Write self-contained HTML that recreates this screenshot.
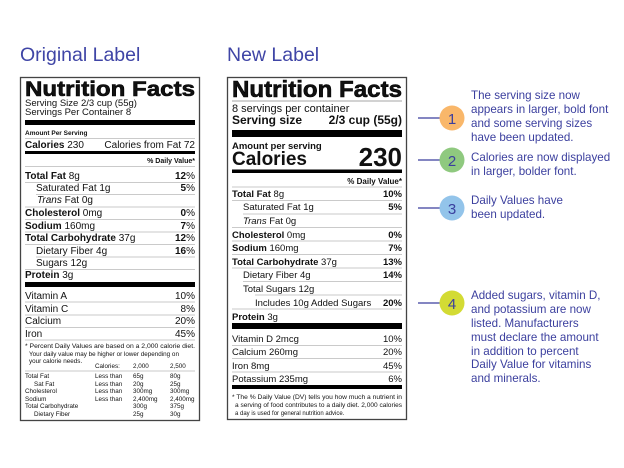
<!DOCTYPE html>
<html><head><meta charset="utf-8"><style>
html,body{margin:0;padding:0;background:#fff;}
svg{display:block;font-family:"Liberation Sans",Arial,sans-serif;}
.b{font-weight:bold}
.s{stroke:#b8b8b8;stroke-width:0.8}
.a{fill:#3b3f9e}
</style></head><body>
<svg width="624" height="468" viewBox="0 0 624 468" xmlns="http://www.w3.org/2000/svg">
<rect width="624" height="468" fill="#fff"/>
<text x="20" y="61" font-size="19.5" fill="#3f45a6">Original Label</text>
<text x="227" y="61" font-size="19.5" fill="#3f45a6">New Label</text>

<!-- ORIGINAL -->
<rect x="20.5" y="77.5" width="179" height="343" fill="#fff" stroke="#444" stroke-width="1.3"/>
<g font-size="10" fill="#111">
<text x="25" y="96" font-size="21" class="b" stroke="#000" stroke-width="0.6" textLength="170" lengthAdjust="spacingAndGlyphs">Nutrition Facts</text>
<text x="25" y="106" font-size="9.5">Serving Size 2/3 cup (55g)</text>
<text x="25" y="115" font-size="9.5">Servings Per Container 8</text>
<rect x="25" y="120" width="170" height="5" fill="#000"/>
<text x="25" y="135" font-size="6.5" class="b">Amount Per Serving</text>
<line class="s" x1="25" y1="138.5" x2="195" y2="138.5"/>
<text x="25" y="148"><tspan class="b">Calories</tspan> 230</text>
<text x="195" y="148" text-anchor="end">Calories from Fat 72</text>
<rect x="25" y="151" width="170" height="3" fill="#000"/>
<text x="195" y="163" font-size="7" class="b" text-anchor="end">% Daily Value*</text>
<line class="s" x1="25" y1="166.5" x2="195" y2="166.5"/>
<text x="25" y="179"><tspan class="b">Total Fat</tspan> 8g</text><text x="195" y="179" text-anchor="end"><tspan class="b">12</tspan>%</text>
<line class="s" x1="25" y1="182.5" x2="195" y2="182.5"/>
<text x="36" y="191">Saturated Fat 1g</text><text x="195" y="191" text-anchor="end"><tspan class="b">5</tspan>%</text>
<line class="s" x1="36" y1="194.5" x2="195" y2="194.5"/>
<text x="37" y="203"><tspan font-style="italic">Trans</tspan> Fat 0g</text>
<line class="s" x1="25" y1="207" x2="195" y2="207"/>
<text x="25" y="216"><tspan class="b">Cholesterol</tspan> 0mg</text><text x="195" y="216" text-anchor="end"><tspan class="b">0</tspan>%</text>
<line class="s" x1="25" y1="219.5" x2="195" y2="219.5"/>
<text x="25" y="229"><tspan class="b">Sodium</tspan> 160mg</text><text x="195" y="229" text-anchor="end"><tspan class="b">7</tspan>%</text>
<line class="s" x1="25" y1="232" x2="195" y2="232"/>
<text x="25" y="241"><tspan class="b">Total Carbohydrate</tspan> 37g</text><text x="195" y="241" text-anchor="end"><tspan class="b">12</tspan>%</text>
<line class="s" x1="25" y1="244.5" x2="195" y2="244.5"/>
<text x="36" y="254">Dietary Fiber 4g</text><text x="195" y="254" text-anchor="end"><tspan class="b">16</tspan>%</text>
<line class="s" x1="36" y1="257" x2="195" y2="257"/>
<text x="36" y="266">Sugars 12g</text>
<line class="s" x1="25" y1="269.5" x2="195" y2="269.5"/>
<text x="25" y="278"><tspan class="b">Protein</tspan> 3g</text>
<rect x="25" y="282" width="170" height="5" fill="#000"/>
<text x="25" y="299">Vitamin A</text><text x="195" y="299" text-anchor="end">10%</text>
<line class="s" x1="25" y1="302" x2="195" y2="302"/>
<text x="25" y="312">Vitamin C</text><text x="195" y="312" text-anchor="end">8%</text>
<line class="s" x1="25" y1="315" x2="195" y2="315"/>
<text x="25" y="324">Calcium</text><text x="195" y="324" text-anchor="end">20%</text>
<line class="s" x1="25" y1="327.5" x2="195" y2="327.5"/>
<text x="25" y="337">Iron</text><text x="195" y="337" text-anchor="end">45%</text>
<line class="s" x1="25" y1="340" x2="195" y2="340"/>
<g font-size="6.3">
<text x="25" y="348" textLength="170" lengthAdjust="spacingAndGlyphs">* Percent Daily Values are based on a 2,000 calorie diet.</text>
<text x="29" y="356">Your daily value may be higher or lower depending on</text>
<text x="29" y="363">your calorie needs.</text>
<text x="95" y="368">Calories:</text><text x="133" y="368">2,000</text><text x="170" y="368">2,500</text>
<line class="s" x1="25" y1="371" x2="195" y2="371"/>
<text x="25" y="378">Total Fat</text><text x="95" y="378">Less than</text><text x="133" y="378">65g</text><text x="170" y="378">80g</text>
<text x="34" y="386">Sat Fat</text><text x="95" y="386">Less than</text><text x="133" y="386">20g</text><text x="170" y="386">25g</text>
<text x="25" y="393">Cholesterol</text><text x="95" y="393">Less than</text><text x="133" y="393">300mg</text><text x="170" y="393">300mg</text>
<text x="25" y="401">Sodium</text><text x="95" y="401">Less than</text><text x="133" y="401">2,400mg</text><text x="170" y="401">2,400mg</text>
<text x="25" y="408">Total Carbohydrate</text><text x="133" y="408">300g</text><text x="170" y="408">375g</text>
<text x="34" y="416">Dietary Fiber</text><text x="133" y="416">25g</text><text x="170" y="416">30g</text>
</g>
</g>

<!-- NEW -->
<rect x="227.5" y="77.5" width="179" height="342" fill="#fff" stroke="#444" stroke-width="1.3"/>
<g font-size="9.5" fill="#111">
<text x="232" y="97" font-size="23.5" class="b" stroke="#000" stroke-width="0.6" textLength="170" lengthAdjust="spacingAndGlyphs">Nutrition Facts</text>
<line x1="232" y1="101" x2="402" y2="101" stroke="#888" stroke-width="0.8"/>
<text x="232" y="112" font-size="11">8 servings per container</text>
<text x="232" y="124" font-size="12" class="b">Serving size</text>
<text x="402" y="124" font-size="12" class="b" text-anchor="end">2/3 cup (55g)</text>
<rect x="232" y="130" width="170" height="7" fill="#000"/>
<text x="232" y="149" font-size="9.5" class="b">Amount per serving</text>
<text x="232" y="165" font-size="19" class="b">Calories</text>
<text x="402" y="166" font-size="26" class="b" text-anchor="end">230</text>
<rect x="232" y="169.5" width="170" height="3.5" fill="#000"/>
<text x="402" y="184" font-size="8" class="b" text-anchor="end">% Daily Value*</text>
<line class="s" x1="232" y1="187" x2="402" y2="187"/>
<text x="232" y="197"><tspan class="b">Total Fat</tspan> 8g</text><text x="402" y="197" text-anchor="end" class="b">10%</text>
<line class="s" x1="232" y1="200.5" x2="402" y2="200.5"/>
<text x="243" y="210">Saturated Fat 1g</text><text x="402" y="210" text-anchor="end" class="b">5%</text>
<line class="s" x1="243" y1="214" x2="402" y2="214"/>
<text x="243" y="224"><tspan font-style="italic">Trans</tspan> Fat 0g</text>
<line class="s" x1="232" y1="227.5" x2="402" y2="227.5"/>
<text x="232" y="238"><tspan class="b">Cholesterol</tspan> 0mg</text><text x="402" y="238" text-anchor="end" class="b">0%</text>
<line class="s" x1="232" y1="241" x2="402" y2="241"/>
<text x="232" y="251"><tspan class="b">Sodium</tspan> 160mg</text><text x="402" y="251" text-anchor="end" class="b">7%</text>
<line class="s" x1="232" y1="254.5" x2="402" y2="254.5"/>
<text x="232" y="265"><tspan class="b">Total Carbohydrate</tspan> 37g</text><text x="402" y="265" text-anchor="end" class="b">13%</text>
<line class="s" x1="232" y1="268" x2="402" y2="268"/>
<text x="243" y="278">Dietary Fiber 4g</text><text x="402" y="278" text-anchor="end" class="b">14%</text>
<line class="s" x1="243" y1="281.5" x2="402" y2="281.5"/>
<text x="243" y="292">Total Sugars 12g</text>
<line class="s" x1="255" y1="295" x2="402" y2="295"/>
<text x="255" y="306">Includes 10g Added Sugars</text><text x="402" y="306" text-anchor="end" class="b">20%</text>
<line class="s" x1="232" y1="309" x2="402" y2="309"/>
<text x="232" y="320"><tspan class="b">Protein</tspan> 3g</text>
<rect x="232" y="323" width="170" height="6" fill="#000"/>
<text x="232" y="342">Vitamin D 2mcg</text><text x="402" y="342" text-anchor="end">10%</text>
<line class="s" x1="232" y1="345.5" x2="402" y2="345.5"/>
<text x="232" y="355">Calcium 260mg</text><text x="402" y="355" text-anchor="end">20%</text>
<line class="s" x1="232" y1="358.5" x2="402" y2="358.5"/>
<text x="232" y="369">Iron 8mg</text><text x="402" y="369" text-anchor="end">45%</text>
<line class="s" x1="232" y1="372" x2="402" y2="372"/>
<text x="232" y="382">Potassium 235mg</text><text x="402" y="382" text-anchor="end">6%</text>
<rect x="232" y="385" width="170" height="4" fill="#000"/>
<g font-size="6">
<text x="232" y="399" textLength="170" lengthAdjust="spacingAndGlyphs">* The % Daily Value (DV) tells you how much a nutrient in</text>
<text x="235" y="407" textLength="167" lengthAdjust="spacingAndGlyphs">a serving of food contributes to a daily diet. 2,000 calories</text>
<text x="235" y="415">a day is used for general nutrition advice.</text>
</g>
</g>

<!-- annotations -->
<g stroke="#3b3f9e" stroke-width="1.2">
<line x1="418" y1="118" x2="442" y2="118"/>
<line x1="418" y1="160" x2="442" y2="160"/>
<line x1="418" y1="208" x2="442" y2="208"/>
<line x1="418" y1="303" x2="442" y2="303"/>
</g>
<circle cx="452" cy="118" r="12.5" fill="#f9b76a"/>
<circle cx="452" cy="160" r="12.5" fill="#8fc97f"/>
<circle cx="452" cy="208" r="12.5" fill="#93c4ea"/>
<circle cx="452" cy="303" r="12.5" fill="#d3db34"/>
<g font-size="15" fill="#3b3f9e" text-anchor="middle">
<text x="452" y="124">1</text><text x="452" y="166">2</text><text x="452" y="214">3</text><text x="452" y="309">4</text>
</g>
<g font-size="11.6" class="a">
<text x="471" y="99">The serving size now</text>
<text x="471" y="113">appears in larger, bold font</text>
<text x="471" y="127">and some serving sizes</text>
<text x="471" y="141">have been updated.</text>
<text x="471" y="161">Calories are now displayed</text>
<text x="471" y="175">in larger, bolder font.</text>
<text x="471" y="204">Daily Values have</text>
<text x="471" y="218">been updated.</text>
<text x="471" y="299">Added sugars, vitamin D,</text>
<text x="471" y="313">and potassium are now</text>
<text x="471" y="327">listed. Manufacturers</text>
<text x="471" y="341">must declare the amount</text>
<text x="471" y="355">in addition to percent</text>
<text x="471" y="368">Daily Value for vitamins</text>
<text x="471" y="382">and minerals.</text>
</g>
</svg>
</body></html>
